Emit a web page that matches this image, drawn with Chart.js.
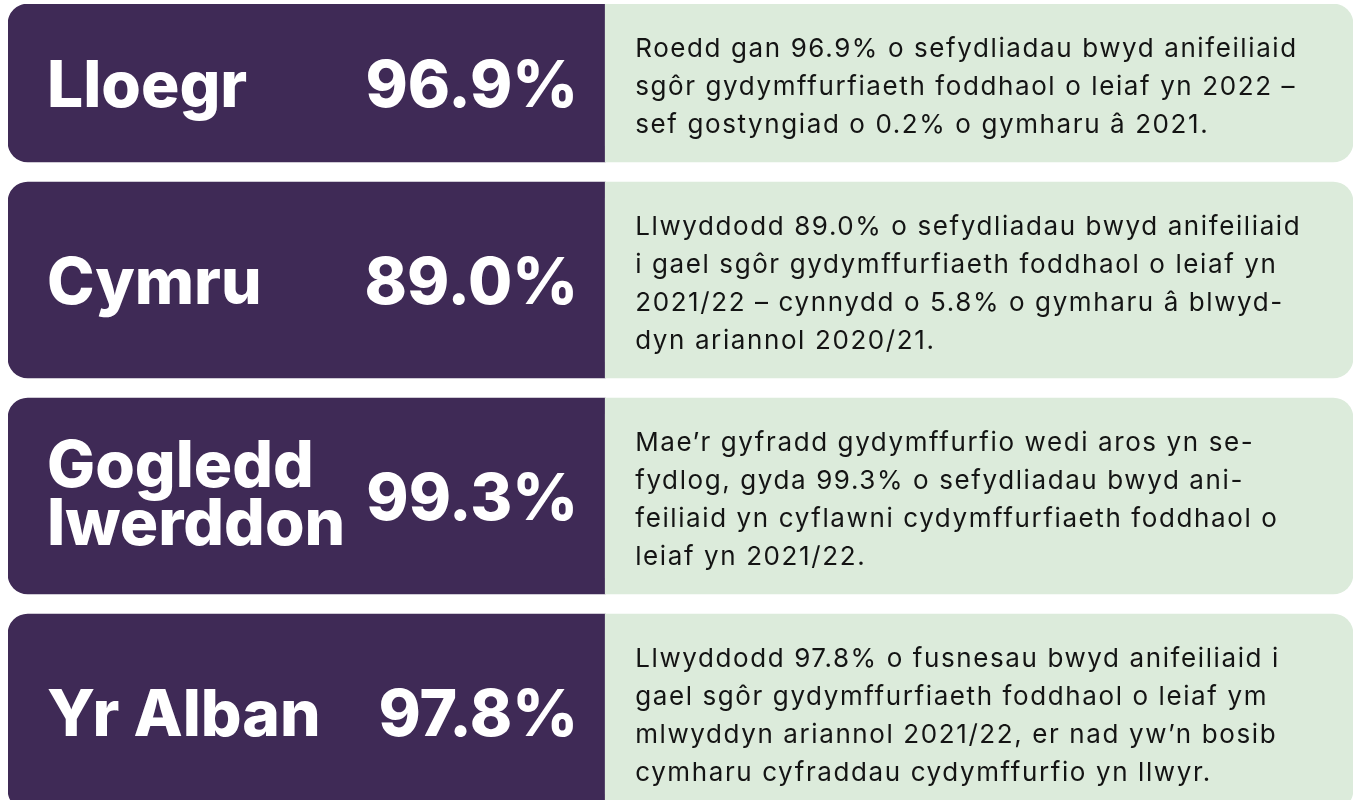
<!DOCTYPE html>
<html>
<head>
<meta charset="utf-8">
<script src="https://cdn.jsdelivr.net/npm/chart.js@4/dist/chart.umd.min.js"></script>
<style>
  html, body { margin: 0; padding: 0; background: #fff; }
  #wrap { width: 1356px; height: 800px; position: relative; }
</style>
</head>
<body>
<div id="wrap"><canvas id="myChart"></canvas></div>
<script>
// regions, headline rates and the summary lines for each panel
var regions = [['Lloegr'], ['Cymru'], ['Gogledd', 'Iwerddon'], ['Yr Alban']];
var rates = [96.9, 89.0, 99.3, 97.8];
var summaries = [
    ['Roedd gan 96.9% o sefydliadau bwyd anifeiliaid',
     'sgôr gydymffurfiaeth foddhaol o leiaf yn 2022 –',
     'sef gostyngiad o 0.2% o gymharu â 2021.'],
    ['Llwyddodd 89.0% o sefydliadau bwyd anifeiliaid',
     'i gael sgôr gydymffurfiaeth foddhaol o leiaf yn',
     '2021/22 – cynnydd o 5.8% o gymharu â blwyd-',
     'dyn ariannol 2020/21.'],
    ['Mae’r gyfradd gydymffurfio wedi aros yn se-',
     'fydlog, gyda 99.3% o sefydliadau bwyd ani-',
     'feiliaid yn cyflawni cydymffurfiaeth foddhaol o',
     'leiaf yn 2021/22.'],
    ['Llwyddodd 97.8% o fusnesau bwyd anifeiliaid i',
     'gael sgôr gydymffurfiaeth foddhaol o leiaf ym',
     'mlwyddyn ariannol 2021/22, er nad yw’n bosib',
     'cymharu cyfraddau cydymffurfio yn llwyr.']
];

// layout
var LINE = 38, PAD = 44, GAP = 20;
var SPLIT = 0.444;
var PURPLE = '#3f2a56', GREEN = '#dcebdb';

// panel height follows the number of summary lines
var heights = summaries.map(function(s) { return PAD + s.length * LINE; });
var centers = [];
var pos = 0;
heights.forEach(function(h) { centers.push(pos + h / 2); pos += h + GAP; });

var panelText = {
    id: 'panelText',
    afterDatasetsDraw: function(chart) {
        var c = chart.ctx;
        chart.data.datasets.forEach(function(ds, i) {
            var meta = chart.getDatasetMeta(i);
            var left = meta.data[0], right = meta.data[1];
            var cy = left.y;
            c.save();
            c.textBaseline = 'alphabetic';
            c.fillStyle = '#fff';
            c.font = '800 64px Inter';
            c.letterSpacing = '0px';
            c.textAlign = 'left';
            var lines = regions[i];
            lines.forEach(function(t, k) {
                c.fillText(t, left.base + 39, cy + 24 + (k - (lines.length - 1) / 2) * 58 - (lines.length - 1) * 4);
            });
            c.textAlign = 'right';
            c.fillText(rates[i].toFixed(1) + '%', left.x - 27, cy + 24);

            c.fillStyle = '#141414';
            c.font = '400 26px Inter';
            c.letterSpacing = '1.6px';
            c.textAlign = 'left';
            var s = summaries[i];
            s.forEach(function(t, k) {
                c.fillText(t, right.base + 30, cy + 12 + (k - (s.length - 1) / 2) * LINE);
            });
            c.restore();
        });
    }
};

var ctx = document.getElementById('myChart').getContext('2d');
var chart = new Chart(ctx, {
    type: 'bar',
    data: {
        datasets: regions.map(function(r, i) {
            return {
                label: r.join(' '),
                data: [{y: centers[i], x: [0, SPLIT]}, {y: centers[i], x: [SPLIT, 1]}],
                backgroundColor: [PURPLE, GREEN],
                borderWidth: 0,
                borderSkipped: false,
                borderRadius: function(context) {
                    return context.dataIndex === 0
                        ? {topLeft: 20, bottomLeft: 20, topRight: 0, bottomRight: 0}
                        : {topLeft: 0, bottomLeft: 0, topRight: 20, bottomRight: 20};
                },
                barThickness: heights[i],
                grouped: false
            };
        })
    },
    options: {
        indexAxis: 'y',
        responsive: true,
        maintainAspectRatio: false,
        animation: false,
        events: [],
        layout: { padding: { left: 8, right: 3, top: 4, bottom: 0 } },
        plugins: { legend: { display: false }, tooltip: { enabled: false } },
        scales: {
            x: { type: 'linear', min: 0, max: 1, display: false },
            y: { type: 'linear', min: 0, max: 796, reverse: true, offset: false, display: false }
        }
    },
    plugins: [panelText]
});
</script>
</body>
</html>
